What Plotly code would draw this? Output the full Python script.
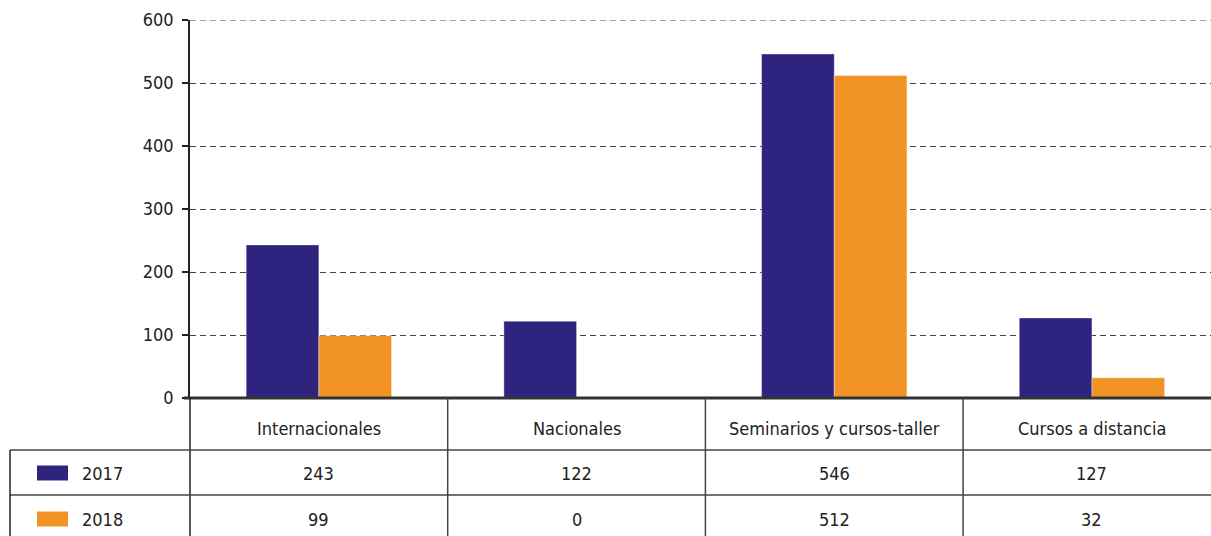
import plotly.graph_objects as go

categories = ["Internacionales", "Nacionales", "Seminarios y cursos-taller", "Cursos a distancia"]
series_names = ["2017", "2018"]
values_2017 = [243, 122, 546, 127]
values_2018 = [99, 0, 512, 32]
y_ticks = [0, 100, 200, 300, 400, 500, 600]

colors = ["#2E2480", "#F29325"]
FONT = "DejaVu Sans Condensed, Liberation Sans Narrow, sans-serif"
FS = 18

W, H = 1211, 536
x0_px = 190
unit_px = 257.7
x_range = [-0.5, -0.5 + (W - x0_px) / unit_px]

def py(p):  # pixel from top -> paper y
    return 1 - p / H

def px(p):
    return p / W

fig = go.Figure()
for name, vals, c in zip(series_names, [values_2017, values_2018], colors):
    fig.add_trace(go.Bar(
        x=list(range(len(categories))), y=vals, name=name,
        marker=dict(color=c, line=dict(color="rgba(255,255,255,0.35)", width=1)),
        width=0.282, showlegend=False, hoverinfo="y",
    ))

fig.update_layout(
    template="none",
    width=W, height=H, margin=dict(l=0, r=0, t=0, b=0, pad=0),
    paper_bgcolor="white", plot_bgcolor="white",
    barmode="group", bargap=0.436, bargroupgap=0,
    font=dict(family=FONT, size=FS, color="#222"),
    xaxis=dict(domain=[px(x0_px), 1], range=x_range, showticklabels=False,
               showgrid=False, zeroline=False, showline=False, ticks="",
               automargin=False),
    yaxis=dict(domain=[py(398), py(20)], range=[0, 600], tickvals=y_ticks,
               ticks="outside", ticklen=6, tickcolor="#222", tickwidth=1.5,
               showline=True, linecolor="#222", linewidth=1.5,
               showgrid=True, gridcolor="#444", griddash="6px,4px", gridwidth=1,
               zeroline=False, ticklabelstandoff=5, automargin=False,
               tickfont=dict(family=FONT, size=FS, color="#222")),
)

shapes = []
line_c = "#222"
# top gridline (plotly omits gridline at range edge)
shapes.append(dict(type="line", xref="paper", yref="y", x0=px(x0_px), x1=1,
                   y0=y_ticks[-1], y1=y_ticks[-1], layer="below",
                   line=dict(color="#444", width=1, dash="6px,4px")))
# zero baseline
shapes.append(dict(type="line", xref="paper", yref="paper", x0=px(184), x1=1,
                   y0=py(398), y1=py(398), line=dict(color="#333", width=3)))
# y axis continuation through table
shapes.append(dict(type="line", xref="paper", yref="paper", x0=px(x0_px), x1=px(x0_px),
                   y0=py(398), y1=0, line=dict(color=line_c, width=1.5)))
# category separators
for i in range(1, len(categories)):
    shapes.append(dict(type="line", xref="x", yref="paper", x0=i - 0.5, x1=i - 0.5,
                       y0=py(398), y1=0, line=dict(color="#444", width=1.5)))
# table horizontal lines
for yy in [450, 495]:
    shapes.append(dict(type="line", xref="paper", yref="paper", x0=px(10), x1=1,
                       y0=py(yy), y1=py(yy), line=dict(color="#444", width=1.5)))
# table left border
shapes.append(dict(type="line", xref="paper", yref="paper", x0=px(10), x1=px(10),
                   y0=py(450), y1=0, line=dict(color=line_c, width=1.5)))

annotations = []
for i, cat in enumerate(categories):
    annotations.append(dict(x=i, y=py(428), xref="x", yref="paper", text=cat,
                            yanchor="middle", showarrow=False,
                            font=dict(family=FONT, size=FS, color="#222")))
row_y = [473, 519]
for r, (name, vals, c) in enumerate(zip(series_names, [values_2017, values_2018], colors)):
    ry = row_y[r]
    shapes.append(dict(type="rect", xref="paper", yref="paper", x0=px(37), x1=px(68),
                       y0=py(ry - 7.5), y1=py(ry + 7.5), fillcolor=c, line=dict(width=0)))
    annotations.append(dict(x=px(80), y=py(ry), xref="paper", yref="paper", text=name,
                            xanchor="left", yanchor="middle", showarrow=False,
                            font=dict(family=FONT, size=FS, color="#222")))
    for i, v in enumerate(vals):
        annotations.append(dict(x=i, y=py(ry), xref="x", yref="paper", text=str(v),
                                yanchor="middle", showarrow=False,
                                font=dict(family=FONT, size=FS, color="#222")))

fig.update_layout(shapes=shapes, annotations=annotations)
fig.write_html("out.html", config={"displayModeBar": False},
               post_script="document.body.style.margin='0';document.body.style.overflow='hidden';")
